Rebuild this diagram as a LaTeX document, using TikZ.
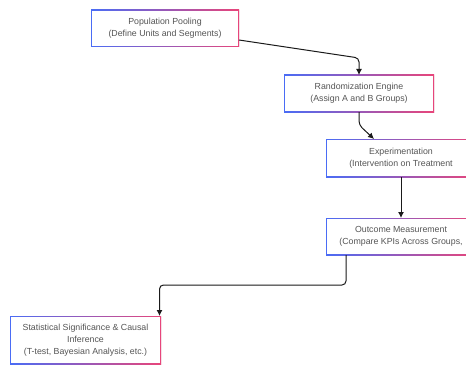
\documentclass[tikz,border=0pt]{standalone}
\usepackage{fontspec}
\setmainfont{Liberation Sans}
\usetikzlibrary{arrows.meta,shadows}
\definecolor{c4a6cf5}{RGB}{74,108,245}
\definecolor{ce8457a}{RGB}{232,69,122}
\definecolor{c555555}{RGB}{85,85,85}
\definecolor{c1a1a1a}{RGB}{26,26,26}
\def \globalscale {1.000000}

\tikzset{
  stagebox/.style={rectangle, fill=white, inner sep=0pt, outer sep=0pt,
    align=center, text=c555555, font=\fontsize{8.8}{12}\selectfont,
    drop shadow={shadow xshift=0.5pt, shadow yshift=-0.5pt, opacity=0.07},
    path picture={
      \shade[left color=c4a6cf5, right color=ce8457a]
        (path picture bounding box.south west) rectangle (path picture bounding box.north east);
      \fill[white]
        ([shift={(1.2pt,1.2pt)}]path picture bounding box.south west) rectangle
        ([shift={(-1.2pt,-1.2pt)}]path picture bounding box.north east);
    }},
  flowline/.style={draw=c1a1a1a, line width=1pt, rounded corners=4pt,
    -{Latex[length=6pt,width=6pt]}}
}

\begin{document}
\begin{tikzpicture}[y=1pt, x=1pt, yscale=\globalscale,xscale=\globalscale, every node/.append style={scale=\globalscale}]
  \clip (0,0) rectangle (466,365);
  \fill[white] (0,0) rectangle (466,365);

  % stages
  \node[stagebox, minimum width=148, minimum height=37] (pooling) at (165, 336.5)
    {Population Pooling\\(Define Units and Segments)};
  \node[stagebox, minimum width=150, minimum height=37] (random) at (359, 271.5)
    {Randomization Engine\\(Assign A and B Groups)};
  \node[stagebox, minimum width=150, minimum height=38] (experiment) at (401, 207)
    {Experimentation\\(Intervention on Treatment};
  \node[stagebox, minimum width=150, minimum height=37] (outcome) at (401, 128.5)
    {Outcome Measurement\\(Compare KPIs Across Groups,};
  \node[stagebox, minimum width=151, minimum height=48] (inference) at (85.5, 25)
    {Statistical Significance \& Causal\\Inference\\(T-test, Bayesian Analysis, etc.)};

  % connectors
  \draw[flowline] ([yshift=-11.5]pooling.east) -- (359, 307) -- (random.north);
  \draw[flowline] (random.south) -- ++(0,-13) -- ([xshift=-27]experiment.north);
  \draw[flowline] (experiment.south) -- (outcome.north);
  \draw[flowline] ([xshift=-55]outcome.south) -- ++(0,-30) -| ([xshift=74]inference.north);

\end{tikzpicture}
\end{document}
